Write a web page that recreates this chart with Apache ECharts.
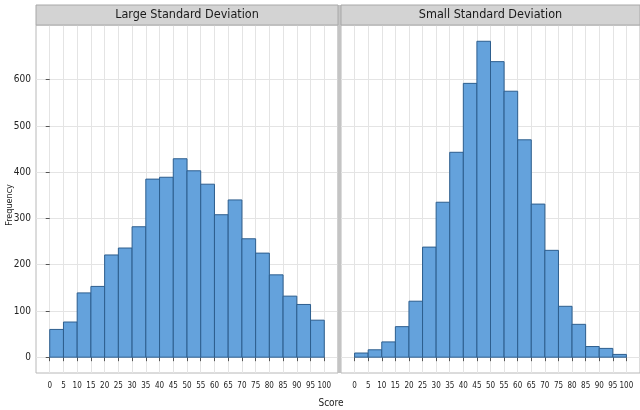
<!DOCTYPE html>
<html>
<head>
<meta charset="utf-8">
<script src="https://cdn.jsdelivr.net/npm/echarts@6/dist/echarts.min.js"></script>
<style>
  html, body { margin: 0; padding: 0; background: #ffffff; }
  #chart { width: 640px; height: 410px; }
</style>
</head>
<body>
<div id="chart"></div>
<script>
// Histogram bins (left edge of each 5-point bin) and counts per panel
const binStarts = [0, 5, 10, 15, 20, 25, 30, 35, 40, 45, 50, 55, 60, 65, 70, 75, 80, 85, 90, 95];
const binWidth = 5;
const largeSD = [60, 76, 139, 153, 221, 236, 282, 385, 389, 429, 403, 374, 308, 340, 256, 225, 178, 132, 114, 80];
const smallSD = [9, 16, 33, 66, 121, 238, 335, 443, 592, 683, 639, 575, 470, 331, 231, 110, 71, 23, 19, 6];
const panelTitles = ['Large Standard Deviation', 'Small Standard Deviation'];
const xTicks = [0, 5, 10, 15, 20, 25, 30, 35, 40, 45, 50, 55, 60, 65, 70, 75, 80, 85, 90, 95, 100];
const yTicks = [0, 100, 200, 300, 400, 500, 600];
const xLabel = 'Score';
const yLabel = 'Frequency';

const FONT = "'Liberation Sans Narrow', 'DejaVu Sans Condensed', 'Arial Narrow', sans-serif";
const BAR_FILL = '#64a2dc';
const BAR_EDGE = '#2d5e8e';
const GRID_LINE = '#e4e4e4';
const FRAME = '#b8b8b8';

function toBins(counts) {
  return binStarts.map((s, i) => [s, s + binWidth, counts[i]]);
}

function renderBar(params, api) {
  const lo = api.coord([api.value(0), api.value(2)]);
  const hi = api.coord([api.value(1), 0]);
  return {
    type: 'rect',
    shape: { x: lo[0], y: lo[1], width: hi[0] - lo[0], height: hi[1] - lo[1] },
    style: { fill: BAR_FILL, stroke: BAR_EDGE, lineWidth: 1 }
  };
}

const panels = [
  { left: 36, width: 302 },
  { left: 341, width: 299 }
];
const PANEL_TOP = 25;
const PANEL_H = 348;
const STRIP_H = 20;

function xAxisFor(i) {
  return {
    type: 'value', gridIndex: i, min: -5, max: 105,
    axisLine: { show: false },
    axisTick: { show: true, customValues: xTicks, length: 4, lineStyle: { color: '#555', width: 1 } },
    axisLabel: { customValues: xTicks, color: '#222', fontSize: 8, fontFamily: FONT, margin: 9 },
    splitLine: { show: true, lineStyle: { color: GRID_LINE, width: 1 } }
  };
}

function yAxisFor(i) {
  return {
    type: 'value', gridIndex: i, min: -34.2, max: 718.2,
    axisLine: { show: false },
    axisTick: { show: i === 0, customValues: yTicks, length: 4, lineStyle: { color: '#555', width: 1 } },
    axisLabel: { show: i === 0, customValues: yTicks, color: '#222', fontSize: 10, fontFamily: FONT, margin: 5 },
    splitLine: { show: true, lineStyle: { color: GRID_LINE, width: 1 } }
  };
}

const graphics = [];
panels.forEach((p, i) => {
  graphics.push({
    type: 'rect', z: 10,
    shape: { x: p.left, y: PANEL_TOP - STRIP_H, width: p.width, height: STRIP_H },
    style: { fill: '#d3d3d3', stroke: '#a8a8a8', lineWidth: 1 }
  });
  graphics.push({
    type: 'text', z: 11,
    x: p.left + p.width / 2, y: PANEL_TOP - STRIP_H / 2,
    style: {
      text: panelTitles[i], fill: '#1a1a1a', fontSize: 12.5, fontFamily: FONT,
      align: 'center', verticalAlign: 'middle'
    }
  });
});
// separator between the two panels
graphics.push({
  type: 'rect', z: 9,
  shape: { x: 337.5, y: PANEL_TOP - STRIP_H, width: 3.5, height: PANEL_H + STRIP_H },
  style: { fill: '#c4c4c4' }
});
graphics.push({
  type: 'text', x: 331, y: 403,
  style: { text: xLabel, fill: '#222', fontSize: 10, fontFamily: FONT, align: 'center', verticalAlign: 'middle' }
});
graphics.push({
  type: 'text', x: 10, y: 205, rotation: Math.PI / 2,
  style: { text: yLabel, fill: '#222', fontSize: 9, fontFamily: FONT, align: 'center', verticalAlign: 'middle' }
});

const chart = echarts.init(document.getElementById('chart'), null, { renderer: 'canvas' });
chart.setOption({
  animation: false,
  backgroundColor: '#ffffff',
  grid: panels.map(p => ({
    left: p.left, width: p.width, top: PANEL_TOP, height: PANEL_H,
    show: true, backgroundColor: '#ffffff', borderColor: FRAME, borderWidth: 1
  })),
  xAxis: [xAxisFor(0), xAxisFor(1)],
  yAxis: [yAxisFor(0), yAxisFor(1)],
  series: [
    { type: 'custom', xAxisIndex: 0, yAxisIndex: 0, renderItem: renderBar, data: toBins(largeSD), encode: { x: [0, 1], y: 2 } },
    { type: 'custom', xAxisIndex: 1, yAxisIndex: 1, renderItem: renderBar, data: toBins(smallSD), encode: { x: [0, 1], y: 2 } }
  ],
  graphic: graphics
});
</script>
</body>
</html>
